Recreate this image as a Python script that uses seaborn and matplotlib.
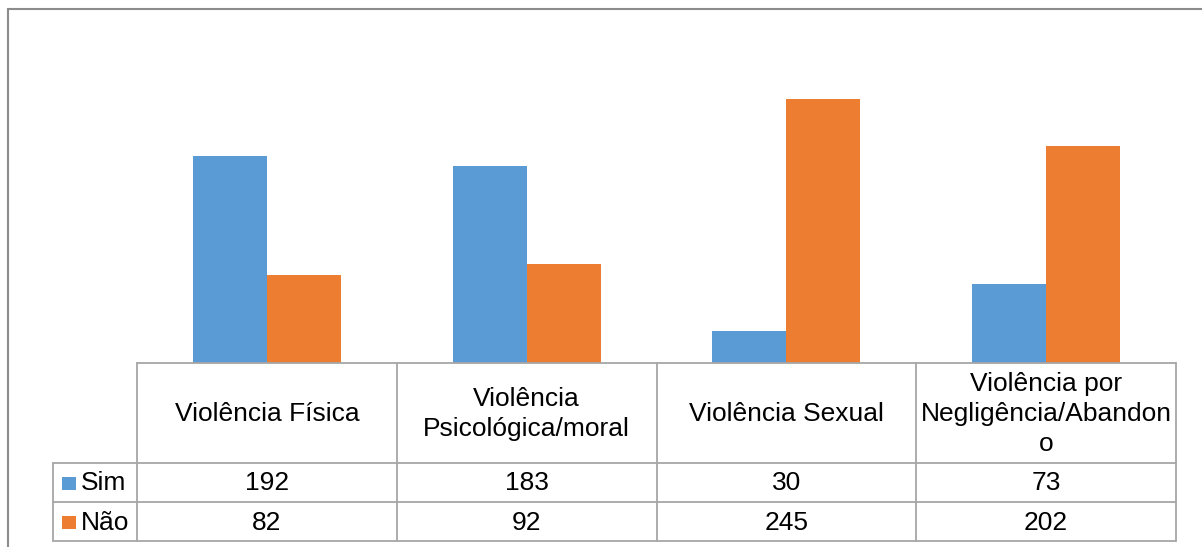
import matplotlib
matplotlib.use("Agg")
import matplotlib.pyplot as plt
from matplotlib.lines import Line2D
from matplotlib.patches import Rectangle
import seaborn as sns
import pandas as pd

# Dados do gráfico
categorias = [
    "Violência Física",
    "Violência\nPsicológica/moral",
    "Violência Sexual",
    "Violência por\nNegligência/Abandon\no",
]
series = ["Sim", "Não"]
sim = [192, 183, 30, 73]
nao = [82, 92, 245, 202]
cores = ["#5B9BD5", "#ED7D31"]

W, H = 1202, 547
sns.set_theme(style="white")
plt.rcParams["font.family"] = ["Liberation Sans", "DejaVu Sans"]

fig = plt.figure(figsize=(W / 100, H / 100), dpi=100)


def fx(x):
    return x / W


def fy(y):
    return 1 - y / H


# Área de plotagem
x0, x1 = 137, 1176
ytop, ybase = 40, 363
ax = fig.add_axes([fx(x0), fy(ybase), fx(x1) - fx(x0), fy(ytop) - fy(ybase)])

df = pd.DataFrame({
    "categoria": categorias * 2,
    "serie": [series[0]] * len(sim) + [series[1]] * len(nao),
    "valor": sim + nao,
})
sns.barplot(data=df, x="categoria", y="valor", hue="serie", hue_order=series,
            palette=cores, width=0.57, saturation=1, linewidth=0,
            legend=False, ax=ax)
ax.set_ylim(0, 300)
ax.set_xlim(-0.5, len(categorias) - 0.5)
ax.axis("off")

# Tabela de dados abaixo do gráfico
cor_linha = "#A6A6A6"
lw = 1.3
col_x = [x0 + (x1 - x0) * i / len(categorias) for i in range(len(categorias) + 1)]
lab_x = 53
row_y = [363, 463, 502, 541]


def hline(xa, xb, y):
    fig.add_artist(Line2D([fx(xa), fx(xb)], [fy(y), fy(y)], color=cor_linha, lw=lw))


def vline(x, ya, yb):
    fig.add_artist(Line2D([fx(x), fx(x)], [fy(ya), fy(yb)], color=cor_linha, lw=lw))


hline(x0, x1, row_y[0])
for y in row_y[1:]:
    hline(lab_x, x1, y)
for x in col_x:
    vline(x, row_y[0], row_y[-1])
vline(lab_x, row_y[1], row_y[-1])

fs = 19
for i, cat in enumerate(categorias):
    cx = (col_x[i] + col_x[i + 1]) / 2
    fig.text(fx(cx), fy((row_y[0] + row_y[1]) / 2 + 1), cat, ha="center", va="center",
             multialignment="center", fontsize=fs, linespacing=1.3, color="#000000")
    fig.text(fx(cx), fy((row_y[1] + row_y[2]) / 2 + 1), str(sim[i]), ha="center",
             va="center", fontsize=fs, color="#000000")
    fig.text(fx(cx), fy((row_y[2] + row_y[3]) / 2 + 1), str(nao[i]), ha="center",
             va="center", fontsize=fs, color="#000000")

# Chaves da legenda nas linhas da tabela
for j, (nome, cor) in enumerate(zip(series, cores)):
    yc = (row_y[j + 1] + row_y[j + 2]) / 2
    fig.add_artist(Rectangle((fx(62), fy(yc + 7)), fx(14), 13 / H,
                             facecolor=cor, edgecolor="none"))
    fig.text(fx(81), fy(yc + 1), nome, ha="left", va="center", fontsize=fs, color="#000000")

# Moldura do gráfico
cor_moldura = "#8C8C8C"
fig.add_artist(Line2D([fx(8), fx(8)], [fy(9), fy(H + 2)], color=cor_moldura, lw=1.5))
fig.add_artist(Line2D([fx(8), fx(W + 2)], [fy(9), fy(9)], color=cor_moldura, lw=1.5))

fig.savefig("out.png", dpi=100)
